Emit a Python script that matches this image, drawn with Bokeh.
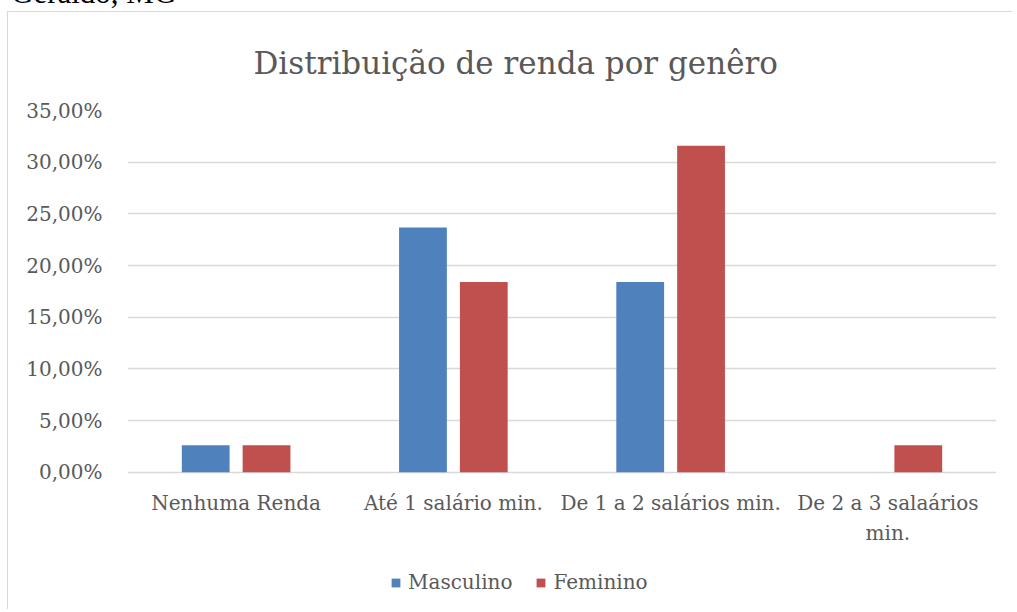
from bokeh.plotting import figure
from bokeh.models import (ColumnDataSource, FactorRange, Range1d, Legend, LegendItem,
                          FixedTicker, Title, Div)
from bokeh.layouts import column
from bokeh.core.properties import value
from bokeh.transform import dodge
from bokeh.embed import file_html
from bokeh.resources import INLINE

categories = ["Nenhuma Renda", "Até 1 salário min.", "De 1 a 2 salários min.",
              "De 2 a 3 salaários\nmin."]
masculino = [2.63, 23.68, 18.42, 0.0]
feminino = [2.63, 18.42, 31.58, 2.63]
y_ticks = [0, 5, 10, 15, 20, 25, 30, 35]
y_tick_labels = ["0,00%", "5,00%", "10,00%", "15,00%", "20,00%", "25,00%", "30,00%", "35,00%"]
series_names = ["Masculino", "Feminino"]
colors = ["#4f81bd", "#c0504d"]

FONT = "DejaVu Serif"
TXT = "#595959"

# layout (pixels)
W, H = 1005, 598
TOP, LEFT, RIGHT = 95, 119, 17
PLOT_H = 364            # height of the 0..35 band
YMAX = y_ticks[-1]
ymin = -(H - TOP - PLOT_H) * YMAX / PLOT_H   # frame extends below zero to host labels/legend

src = ColumnDataSource(dict(cat=categories, m=masculino, f=feminino,
                            base=[0] * len(categories)))

p = figure(x_range=FactorRange(*categories), y_range=Range1d(ymin, YMAX),
           width=W, height=H, output_backend="svg", toolbar_location=None,
           min_border_left=LEFT, min_border_right=RIGHT, min_border_top=TOP,
           min_border_bottom=0, outline_line_color=None)
p.styles = {"border-left": "1px solid #d9d9d9", "border-top": "1px solid #d9d9d9",
            "margin-left": "7px"}

p.title = Title(text="Distribuição de renda por genêro", align="left", offset=126,
                text_font=FONT, text_font_size="31px", text_font_style="normal",
                text_color=TXT, standoff=60)

r1 = p.vbar(x=dodge("cat", -0.14, range=p.x_range), top="m", width=0.22, source=src,
            fill_color=colors[0], line_color=None)
r2 = p.vbar(x=dodge("cat", 0.14, range=p.x_range), top="f", width=0.22, source=src,
            fill_color=colors[1], line_color=None)

# category labels under the zero line
p.text(x="cat", y="base", text="cat", source=src, y_offset=19,
       text_align="center", text_baseline="top", text_font=value(FONT),
       text_font_size="20px", text_color=TXT, text_line_height=1.245)

p.xaxis.visible = False
p.xgrid.grid_line_color = None
p.ygrid.grid_line_color = "#d9d9d9"
p.ygrid.grid_line_width = 1.3
p.yaxis.ticker = FixedTicker(ticks=y_ticks)
p.ygrid.ticker = FixedTicker(ticks=y_ticks)
p.yaxis.major_label_overrides = {t: l for t, l in zip(y_ticks, y_tick_labels)}

ax = p.yaxis[0]
ax.axis_line_color = None
ax.major_tick_line_color = None
ax.minor_tick_line_color = None
ax.major_tick_out = 0
ax.major_tick_in = 0
ax.major_label_text_font = FONT
ax.major_label_text_font_size = "20px"
ax.major_label_text_color = TXT
ax.major_label_standoff = 25

legend = Legend(items=[LegendItem(label=series_names[0], renderers=[r1]),
                       LegendItem(label=series_names[1], renderers=[r2])],
                orientation="horizontal", location=(263, 16),
                glyph_width=11, glyph_height=11, label_standoff=7, spacing=23,
                padding=0, margin=0, border_line_color=None, background_fill_alpha=0,
                label_text_font=FONT, label_text_font_size="20px", label_text_color=TXT,
                label_height=20)
p.add_layout(legend, "center")

head = Div(text='<span style="position:absolute; left:11px; top:-23px; '
                'font-family:\'Liberation Serif\'; font-size:31px; line-height:31px; '
                'color:#000; white-space:nowrap">Geraldo, MG</span>',
           width=300, height=11, margin=0,
           styles={"overflow": "visible", "position": "relative"})

layout = column(head, p)
open("out.html", "w").write(file_html(layout, INLINE))
